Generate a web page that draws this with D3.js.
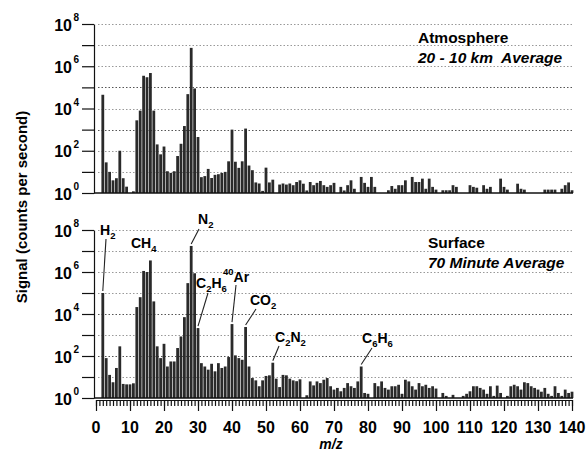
<!DOCTYPE html>
<html lang="en">
<head>
<meta charset="UTF-8">
<title>mass spectrum</title>
<script src="https://cdn.jsdelivr.net/npm/d3@7"></script>
<style>
    body { margin: 0; background: #fff; }
    svg { font-family: "Liberation Sans", Arial, sans-serif; }
    .axis path, .axis line { stroke: #111; stroke-width: 1.2; }
</style>
</head>
<body>
<svg id="chart" width="587" height="454"></svg>
<script>
// m/z channels 1..140
const mz = d3.range(1, 141);
// log10 of signal (counts per second), 0 = no bar
const atmosphereLog = [
    0, 4.65, 1.45, 1.0, 0.6, 0.7, 2.0, 0.7, 0.3, 0,
    0.08, 3.44, 3.9, 5.55, 5.48, 5.68, 3.9, 2.3, 1.83, 2.2,
    1.03, 0.95, 1.03, 1.75, 2.33, 3.17, 4.68, 6.87, 4.95, 2.65,
    0.75, 0.8, 1.14, 0.71, 0.86, 0.89, 0.95, 1.0, 1.5, 3.0,
    1.48, 1.19, 1.5, 3.05, 1.3, 1.08, 0.5, 0.45, 0.1, 1.2,
    0.5, 0.63, 0, 0.4, 0.45, 0.4, 0.45, 0.37, 0.52, 0.6,
    0.44, 0.12, 0.52, 0.37, 0.48, 0.57, 0.37, 0.29, 0.37, 0.48,
    0, 0.29, 0.12, 0.37, 0.6, 0.2, 0, 0.76, 0.48, 0.29,
    0.76, 0.29, 0, 0, 0, 0.13, 0.33, 0.2, 0.37, 0.37,
    0.6, 0, 0.76, 0.52, 0.52, 0.68, 0.2, 0.68, 0.29, 0.16,
    0, 0.13, 0.13, 0.13, 0.37, 0.29, 0, 0, 0, 0.37,
    0.29, 0.25, 0, 0.37, 0.2, 0.29, 0, 0, 0.68, 0.29,
    0.16, 0, 0, 0.44, 0.2, 0.16, 0, 0, 0, 0,
    0, 0.16, 0.16, 0.16, 0.16, 0, 0.2, 0.37, 0.5, 0.13
];
const surfaceLog = [
    0, 5.0, 1.9, 1.1, 0.75, 1.43, 2.46, 0.67, 0.65, 0.65,
    0.7, 4.33, 4.8, 6.05, 6.0, 6.55, 4.6, 2.46, 1.9, 2.58,
    1.5, 1.74, 1.74, 2.38, 2.93, 3.85, 5.47, 7.24, 5.94, 3.33,
    1.66, 1.5, 1.35, 1.63, 1.27, 1.66, 1.43, 1.5, 1.95, 3.52,
    2.03, 1.9, 1.82, 3.38, 1.5, 0.95, 0.84, 0.56, 0.84, 1.05,
    1.08, 1.68, 0.92, 0.52, 1.1, 1.08, 0.92, 0.84, 0.8, 0.89,
    0, 0.13, 0.79, 0.6, 0.79, 0.71, 0.87, 0.95, 0.56, 0.4,
    0.48, 0.32, 0.48, 0.71, 0.56, 0.48, 0.79, 1.5, 0.24, 0.2,
    0, 0.71, 0.56, 0.79, 0.48, 0.4, 0.56, 0.56, 0.63, 0.2,
    0.87, 0.79, 0.56, 0.4, 0.71, 0.56, 0.63, 0.48, 0.56, 0.45,
    0, 0.24, 0.1, 0, 0.15, 0, 0, 0.1, 0.2, 0.32,
    0.56, 0.56, 0.48, 0.4, 0.2, 0.56, 0.1, 0.59, 0.24, 0,
    0.1, 0.56, 0.63, 0.56, 0.4, 0.75, 0.71, 0.56, 0.48, 0.4,
    0.3, 0.48, 0.2, 0.1, 0.56, 0.24, 0.1, 0.4, 0.24, 0.3
];
const xTicks = d3.range(0, 141, 10);
const decades = d3.range(0, 9);
const labelExps = [0, 2, 4, 6, 8];

const svg = d3.select("#chart");
const x = d3.scaleLinear().domain([0, 140]).range([96, 572]);
const barW = (x(1) - x(0)) * 0.82;

function panel(values, top, bottom, darkGrid) {
    const y = d3.scaleLog().domain([1, 1e8]).range([bottom, top]);
    const g = svg.append("g");

    // dotted gridlines
    g.append("g")
        .selectAll("line").data(decades.slice(1)).join("line")
        .attr("x1", x(0) + 2).attr("x2", x(140))
        .attr("y1", d => Math.round(y(10 ** d)) + 0.5)
        .attr("y2", d => Math.round(y(10 ** d)) + 0.5)
        .attr("stroke", d => darkGrid.includes(d) ? "#555" : "#999")
        .attr("stroke-width", 1)
        .attr("stroke-dasharray", "1.5 2");

    // bars
    const data = mz.map((m, i) => ({ m: m, v: values[i] })).filter(d => d.v > 0);
    g.selectAll("rect").data(data).join("rect")
        .attr("x", d => x(d.m) - barW / 2)
        .attr("width", barW)
        .attr("y", d => y(10 ** d.v))
        .attr("height", d => y(1) - y(10 ** d.v))
        .attr("fill", "#2a2a2a");

    // y axis
    g.append("g").attr("class", "axis")
        .attr("transform", "translate(94,0)")
        .call(d3.axisLeft(y).tickValues(decades.map(d => 10 ** d))
            .tickSize(12).tickSizeOuter(0).tickFormat(""));

    // baseline
    g.append("line")
        .attr("x1", 94).attr("x2", x(140) + 1)
        .attr("y1", y(1)).attr("y2", y(1))
        .attr("stroke", "#111").attr("stroke-width", 1.3);

    // tick labels 10^n
    const lab = g.selectAll("g.ylab").data(labelExps).join("g")
        .attr("class", "ylab")
        .attr("transform", d => `translate(0,${y(10 ** d)})`);
    lab.append("text")
        .attr("x", 72).attr("y", 6.5)
        .attr("text-anchor", "end")
        .attr("font-size", 16).attr("font-weight", "bold")
        .text("10");
    lab.append("text")
        .attr("x", 73.5).attr("y", -3)
        .attr("font-size", 10).attr("font-weight", "bold")
        .text(d => d);
    return y;
}

const yTop = panel(atmosphereLog, 24, 193, [5, 3]);
const yBot = panel(surfaceLog, 230, 398, [4, 2]);

// bottom x axis: minor and major ticks
svg.append("g").attr("class", "axis")
    .attr("transform", "translate(0,400)")
    .call(d3.axisBottom(x).tickValues(d3.range(0, 141)).tickSize(6).tickSizeOuter(0).tickFormat(""));
svg.append("g").attr("class", "axis")
    .attr("transform", "translate(0,400)")
    .call(d3.axisBottom(x).tickValues(xTicks).tickSize(11).tickSizeOuter(0).tickFormat(""));

svg.append("g").selectAll("text").data(xTicks).join("text")
    .attr("x", d => x(d)).attr("y", 433)
    .attr("text-anchor", "middle")
    .attr("font-size", 16).attr("font-weight", "bold")
    .text(d => d);

svg.append("text")
    .attr("x", 331).attr("y", 449)
    .attr("text-anchor", "middle")
    .attr("font-size", 14).attr("font-weight", "bold").attr("font-style", "italic")
    .text("m/z");

svg.append("text")
    .attr("transform", "rotate(-90)")
    .attr("x", -207).attr("y", 27)
    .attr("text-anchor", "middle")
    .attr("font-size", 15).attr("font-weight", "bold")
    .text("Signal (counts per second)");

// panel titles
function title(x0, y0, line1, line2, size) {
    svg.append("text").attr("x", x0).attr("y", y0)
        .attr("font-size", size).attr("font-weight", "bold").text(line1);
    svg.append("text").attr("x", x0).attr("y", y0 + 20)
        .attr("font-size", size).attr("font-weight", "bold").attr("font-style", "italic")
        .style("white-space", "pre").text(line2);
}
title(418, 43, "Atmosphere", "20 - 10 km  Average", 15.5);
title(428, 248, "Surface", "70 Minute Average", 15.5);

// species labels on the surface panel
function chem(x0, y0, parts) {
    const t = svg.append("text").attr("x", x0).attr("y", y0)
        .attr("font-size", 14).attr("font-weight", "bold");
    let shift = 0;
    parts.forEach(([s, kind]) => {
        const want = kind === "sub" ? 4 : kind === "sup" ? -7 : 0;
        t.append("tspan")
            .attr("dy", want - shift)
            .attr("font-size", kind ? 9.5 : 14)
            .text(s);
        shift = want;
    });
}
const species = [
    { m: 2, parts: [["H"], ["2", "sub"]], tx: 100, ty: 235, lx: 106, ly: 239 },
    { m: 16, parts: [["CH"], ["4", "sub"]], tx: 131, ty: 248, lx: null },
    { m: 28, parts: [["N"], ["2", "sub"]], tx: 198, ty: 224, lx: 199, ly: 229 },
    { m: 30, parts: [["C"], ["2", "sub"], ["H"], ["6", "sub"]], tx: 196, ty: 288, lx: 208, ly: 293 },
    { m: 40, parts: [["40", "sup"], ["Ar"]], tx: 223, ty: 282, lx: 236, ly: 285 },
    { m: 44, parts: [["CO"], ["2", "sub"]], tx: 250, ty: 305, lx: 256, ly: 309 },
    { m: 52, parts: [["C"], ["2", "sub"], ["N"], ["2", "sub"]], tx: 275, ty: 342, lx: 279, ly: 346 },
    { m: 78, parts: [["C"], ["6", "sub"], ["H"], ["6", "sub"]], tx: 362, ty: 343, lx: 372, ly: 348 }
];
species.forEach(s => {
    chem(s.tx, s.ty, s.parts);
    if (s.lx !== null) {
        svg.append("line")
            .attr("x1", s.lx).attr("y1", s.ly)
            .attr("x2", x(s.m)).attr("y2", yBot(10 ** surfaceLog[s.m - 1]) - 2)
            .attr("stroke", "#222").attr("stroke-width", 1.1);
    }
});
</script>
</body>
</html>
